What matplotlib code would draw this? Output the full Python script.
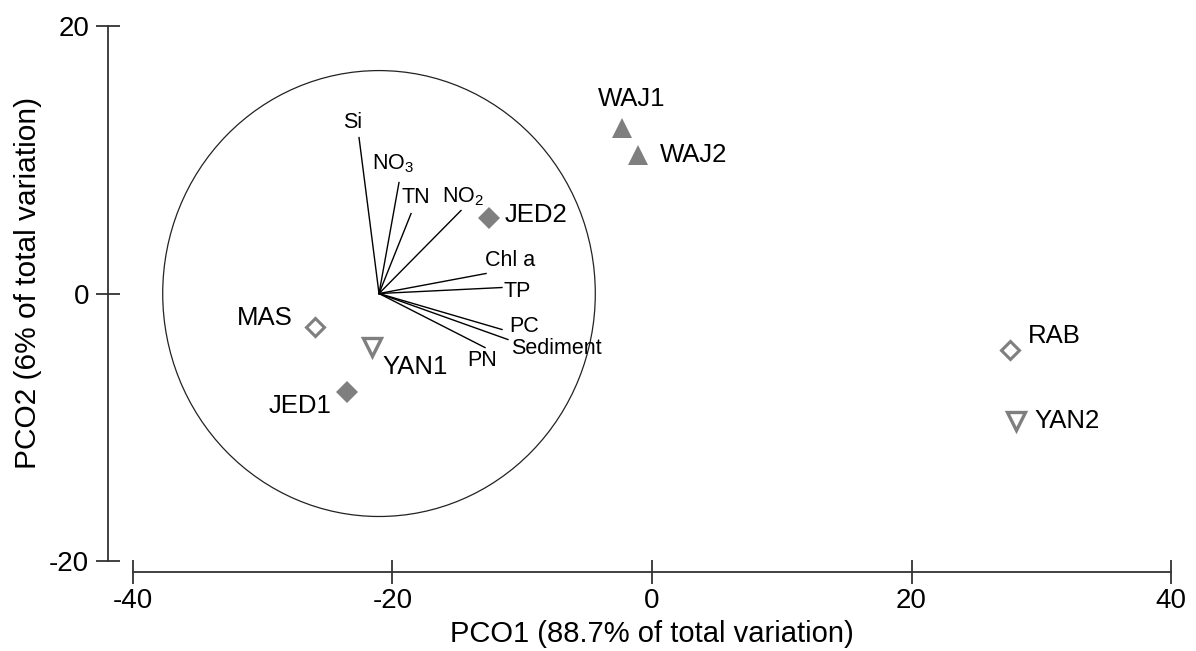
import matplotlib
matplotlib.use("Agg")
import matplotlib.pyplot as plt
from matplotlib.patches import Circle

plt.rcParams['font.family'] = ['Liberation Sans', 'DejaVu Sans']
plt.rcParams['mathtext.fontset'] = 'custom'
plt.rcParams['mathtext.rm'] = 'Liberation Sans'

# site scores
sites = ["WAJ1", "WAJ2", "JED2", "MAS", "YAN1", "JED1", "RAB", "YAN2"]
pco1 = [-2.31, -1.08, -12.56, -25.97, -21.58, -23.50, 27.60, 28.05]
pco2 = [12.37, 10.36, 5.64, -2.50, -4.00, -7.36, -4.22, -9.53]

# vector overlay (correlations), drawn from the origin below
vec_names = ["Si", "NO$_\\mathregular{3}$", "TN", "NO$_\\mathregular{2}$", "Chl a",
             "TP", "PC", "Sediment", "PN"]
vec_dx = [-1.54, 1.54, 2.47, 6.32, 8.25, 9.48, 9.48, 9.94, 8.17]
vec_dy = [11.66, 8.30, 5.98, 6.21, 1.50, 0.45, -2.69, -3.44, -4.04]
vec_origin = (-21.04, 0.0)
circle_radius = 16.67

xticks = [-40, -20, 0, 20, 40]
yticks = [-20, 0, 20]

# styles per site group
grey = '#7f7f7f'
styles = {
    "WAJ": dict(marker='^', ms=15, mfc=grey, mec=grey, mew=0),
    "JED": dict(marker='D', ms=11.5, mfc=grey, mec=grey, mew=0),
    "MAS": dict(marker='D', ms=9.5, mfc='white', mec=grey, mew=2.2),
    "RAB": dict(marker='D', ms=9.5, mfc='white', mec=grey, mew=2.2),
    "YAN": dict(marker='v', ms=13.5, mfc='white', mec=grey, mew=2.4),
}
# label offsets in points (from marker)
site_offsets = [(7, 21), (40, 0), (34, 2), (-36, 6.5), (31, -14.5),
                (-34, -10), (32, 10), (37, 0)]
vec_offsets = [(-4.3, 10.8), (-4.3, 13.7), (3.6, 11.5), (1.4, 10), (17.3, 9.4),
               (10.8, -2.9), (15.8, 2.2), (34.6, -6.5), (-2.2, -9.4)]

fig = plt.figure(figsize=(11.96, 6.51), dpi=100)
ax = fig.add_axes([0.1112, 0.1382, 0.8679, 0.8218])

ax.add_patch(Circle(vec_origin, circle_radius, fill=False, ec='#222222', lw=0.9))
for i in range(len(vec_names)):
    x1 = vec_origin[0] + vec_dx[i]
    y1 = vec_origin[1] + vec_dy[i]
    ax.plot([vec_origin[0], x1], [vec_origin[1], y1], color='black', lw=1.0)
    ax.annotate(vec_names[i], (x1, y1), xytext=vec_offsets[i], textcoords='offset points',
                ha='center', va='center', fontsize=15.5)

for i in range(len(sites)):
    st = styles[sites[i][:3]]
    ax.plot([pco1[i]], [pco2[i]], linestyle='none', **st)
    ax.annotate(sites[i], (pco1[i], pco2[i]), xytext=site_offsets[i],
                textcoords='offset points', ha='center', va='center', fontsize=18.5)

ax.set_xlim(-40, 40)
ax.set_ylim(-20, 20)
ax.set_xticks(xticks)
ax.set_yticks(yticks)
ax.set_xticklabels([str(t) for t in xticks])
ax.set_yticklabels([str(t) for t in yticks])

for s in ['top', 'right']:
    ax.spines[s].set_visible(False)
ax.spines['left'].set_position(('outward', 18))
ax.spines['bottom'].set_position(('outward', 8))
for s in ['left', 'bottom']:
    ax.spines[s].set_linewidth(1.3)
    ax.spines[s].set_color('#333333')

ax.tick_params(axis='both', direction='inout', length=17, width=1.3, color='#333333',
               labelsize=20)
ax.tick_params(axis='y', pad=5)
ax.tick_params(axis='x', pad=3)

ax.set_xlabel('PCO1 (88.7% of total variation)', fontsize=21)
ax.set_ylabel('PCO2 (6% of total variation)', fontsize=21.5)
ax.xaxis.set_label_coords(0.5, -0.11)
ax.yaxis.set_label_coords(-0.088, 0.52)

fig.savefig('out.png', dpi=100)
